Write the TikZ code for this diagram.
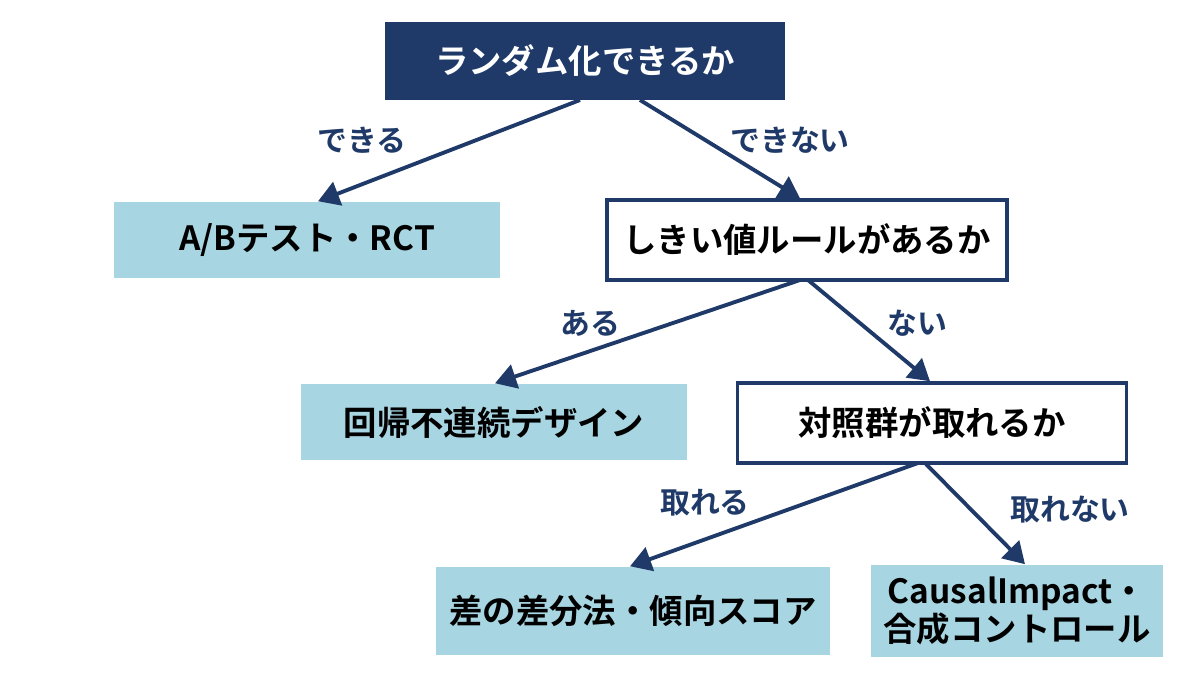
\documentclass[tikz,border=0pt]{standalone}
\usepackage{fontspec}
\setmainfont{Noto Sans CJK JP}[BoldFont={Noto Sans CJK JP Bold}]
\usepackage{tikz}
\usetikzlibrary{arrows.meta}
\definecolor{navy}{HTML}{1F3A68}
\definecolor{lblue}{HTML}{A8D5E2}
\tikzset{
  q/.style={draw=navy,line width=1pt,fill=white,minimum height=0.8cm,font=\bfseries\fontsize{9.5}{11}\selectfont},
  res/.style={fill=lblue,minimum height=0.76cm,font=\bfseries\fontsize{9.5}{11}\selectfont,align=center},
  arr/.style={navy,line width=1.1pt,-{Triangle[length=6pt,width=7pt]}},
  lab/.style={text=navy,font=\bfseries\fontsize{8.5}{10}\selectfont}
}
\begin{document}
\begin{tikzpicture}[x=0.01cm,y=-0.01cm]
\useasboundingbox (0,0) rectangle (1200,675);
\node[fill=navy,text=white,minimum width=4cm,minimum height=0.78cm,font=\bfseries\fontsize{9.5}{11}\selectfont] (rand) at (585,61) {ランダム化できるか};
\node[res,minimum width=3.85cm] (ab) at (307,240) {A/Bテスト・RCT};
\node[q,minimum width=4cm] (thr) at (807,240) {しきい値ルールがあるか};
\node[res,minimum width=3.85cm] (rdd) at (494,422) {回帰不連続デザイン};
\node[q,minimum width=3.89cm] (ctl) at (932,423) {対照群が取れるか};
\node[res,minimum width=3.94cm,minimum height=0.88cm] (did) at (633,611) {差の差分法・傾向スコア};
\node[res,minimum width=2.92cm,minimum height=0.88cm] (ci) at (1017,611) {CausalImpact・\\合成コントロール};

\coordinate (r1) at (580,100); \coordinate (r2) at (640,100);
\coordinate (t1) at (800,280); \coordinate (t2) at (808,280);
\coordinate (c1) at (918,463); \coordinate (c2) at (925,463);
\draw[arr] (r1) -- (ab.north -| 318,0);
\draw[arr] (r2) -- (thr.north -| 800,0);
\draw[arr] (t1) -- (rdd.north -| 495,0);
\draw[arr] (t2) -- (ctl.north -| 930,0);
\draw[arr] (c1) -- (did.north -| 630,0);
\draw[arr] (c2) -- (ci.north -| 1025,0);

\node[lab] (l1) at (362,140) {できる};
\node[lab] (l2) at (790,140) {できない};
\node[lab] (l3) at (590,323) {ある};
\node[lab] (l4) at (917,323) {ない};
\node[lab] (l5) at (705,503) {取れる};
\node[lab] (l6) at (1070,510) {取れない};
\end{tikzpicture}
\end{document}
